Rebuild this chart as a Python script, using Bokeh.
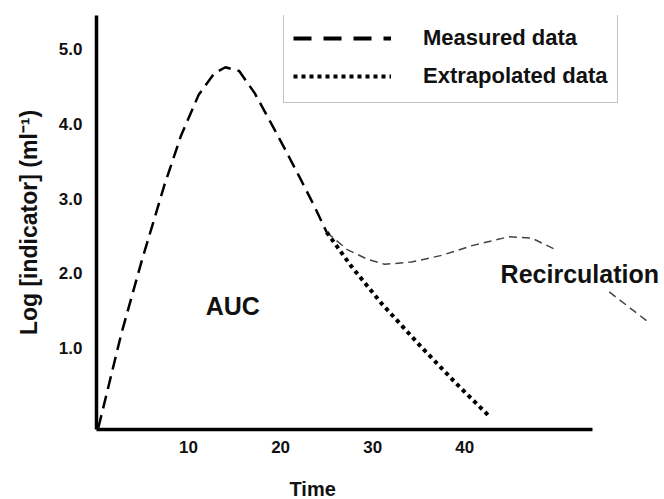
from bokeh.plotting import figure
from bokeh.models import Range1d, FixedTicker, Label, Legend, LegendItem, Title
from bokeh.embed import file_html
from bokeh.resources import INLINE

nan = float("nan")

# Measured data (rise, peak, early decline)
measured_t = [0.2, 2.7, 4.9, 7.4, 9.2, 11.1, 12.8, 14.0, 15.5, 17.2, 18.7, 20.4, 22.3, 23.7, 25.0]
measured_v = [-0.07, 1.19, 2.16, 3.19, 3.85, 4.39, 4.68, 4.76, 4.71, 4.41, 4.07, 3.68, 3.23, 2.89, 2.55]

# Recirculation part of the measured curve (gap where the label sits)
recirc_t = [25.0, 27.2, 29.4, 31.3, 34.2, 37.5, 40.8, 44.8, 47.3, 49.8, nan, 55.7, 59.8]
recirc_v = [2.55, 2.32, 2.19, 2.12, 2.15, 2.24, 2.37, 2.49, 2.47, 2.32, nan, 1.75, 1.36]

# Extrapolated data
extrap_t = [25.0, 27.7, 31.0, 35.3, 39.1, 42.7]
extrap_v = [2.55, 2.09, 1.59, 1.01, 0.52, 0.08]

x_ticks = [10, 20, 30, 40]
x_tick_labels = ["10", "20", "30", "40"]
y_ticks = [1, 2, 3, 4, 5]
y_tick_labels = ["1.0", "2.0", "3.0", "4.0", "5.0"]

FONT = "Liberation Sans"
INK = "#111111"

p = figure(width=664, height=499, output_backend="svg", toolbar_location=None,
           x_range=Range1d(0, 61.7), y_range=Range1d(-0.093, 5.453),
           min_border_left=96, min_border_right=0, min_border_top=15,
           min_border_bottom=68)
p.grid.visible = False
p.outline_line_color = None
p.background_fill_color = "white"

for ax in (p.xaxis[0], p.yaxis[0]):
    ax.axis_line_width = 3.5
    ax.axis_line_color = "black"
    ax.major_tick_line_color = None
    ax.minor_tick_line_color = None
    ax.major_label_text_font = FONT
    ax.major_label_text_font_style = "bold"
    ax.major_label_text_font_size = "17px"
    ax.major_label_text_color = INK

p.xaxis.ticker = FixedTicker(ticks=x_ticks)
p.xaxis.major_label_overrides = dict(zip(x_ticks, x_tick_labels))
p.xaxis.bounds = (0, 53.9)
p.xaxis.major_label_standoff = 5
# blank axis label: only reserves room so that "Time" sits lower
p.xaxis.axis_label = " "
p.xaxis.axis_label_standoff = 0
p.xaxis.axis_label_text_font_size = "15px"

# "Time" title under the axis, offset to sit where the reference has it
p.add_layout(Title(text="Time", align="left", offset=193, standoff=0,
                   vertical_align="bottom",
                   text_font=FONT, text_font_style="bold", text_font_size="20px",
                   text_color=INK), "below")

p.yaxis.ticker = FixedTicker(ticks=y_ticks)
p.yaxis.major_label_overrides = dict(zip(y_ticks, y_tick_labels))
p.yaxis.major_label_standoff = 8
p.yaxis.axis_label = "Log [indicator] (ml\u207b\u00b9)"
p.yaxis.axis_label_text_font = FONT
p.yaxis.axis_label_text_font_style = "bold"
p.yaxis.axis_label_text_font_size = "23px"
p.yaxis.axis_label_text_color = INK
p.yaxis.axis_label_standoff = 14

p.line(measured_t, measured_v, line_color="black", line_width=2.5, line_dash="13 7")
p.line(recirc_t, recirc_v, line_color="#444444", line_width=1.5, line_dash="8 5")
p.line(extrap_t, extrap_v, line_color="black", line_width=4, line_dash="4 4")

for txt, x, y in [("AUC", 14.8, 1.56), ("Recirculation", 52.5, 1.99)]:
    p.add_layout(Label(x=x, y=y, text=txt, text_font=FONT, text_font_style="bold",
                       text_font_size="25px", text_color=INK,
                       text_align="center", text_baseline="middle"))

# legend sample renderers (no visible data points)
leg1 = p.line(x=[nan], y=[nan], line_color="black", line_width=4, line_dash="18 12")
leg2 = p.line(x=[nan], y=[nan], line_color="black", line_width=4, line_dash="4 4")
legend = Legend(items=[LegendItem(label="Measured data", renderers=[leg1]),
                       LegendItem(label="Extrapolated data", renderers=[leg2])],
                location=(187, 326), orientation="vertical",
                glyph_width=98, glyph_height=34, label_height=34,
                label_standoff=32, padding=9, spacing=4, margin=0,
                label_text_font=FONT, label_text_font_style="bold",
                label_text_font_size="22px", label_text_color=INK,
                border_line_color="#888888", border_line_width=1.5,
                background_fill_color="white", background_fill_alpha=1.0)
p.add_layout(legend)

open("out.html", "w").write(file_html(p, INLINE))
